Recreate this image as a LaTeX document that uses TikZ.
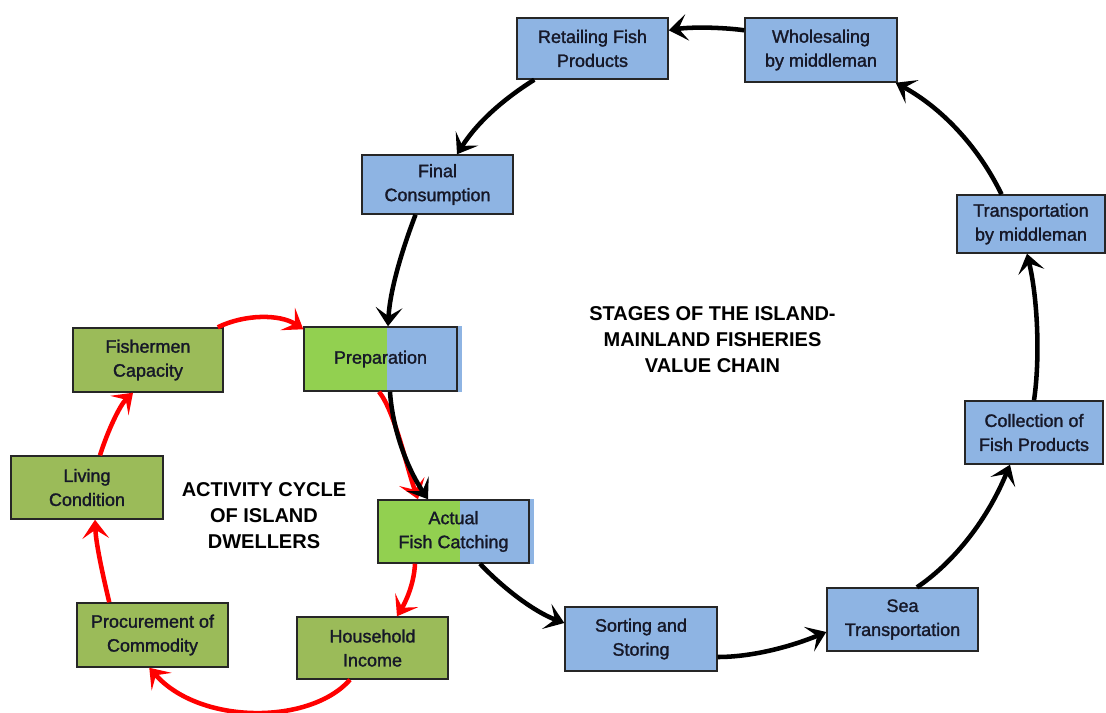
\documentclass[tikz,border=0pt]{standalone}
\usepackage{fontspec}
\setmainfont{Liberation Sans}
\newfontfamily\boxfont[FakeBold=1.5]{Liberation Sans}
\usetikzlibrary{arrows.meta,calc,backgrounds}
\definecolor{stageblue}{RGB}{142,180,227}
\definecolor{olive}{RGB}{155,187,89}
\definecolor{brightgreen}{RGB}{146,208,80}
\definecolor{edgegray}{RGB}{38,38,38}
\definecolor{inkblue}{RGB}{22,24,40}
\definecolor{cyclered}{RGB}{255,0,0}
\begin{document}
\begin{tikzpicture}[x=0.75pt,y=-0.75pt,
  sz/.style 2 args={minimum width=#1*0.75pt, minimum height=#2*0.75pt},
  box/.style={draw=edgegray, line width=1.1pt, align=center, text=inkblue,
    font=\boxfont\fontsize{13.5}{18}\selectfont, inner sep=0pt},
  stage/.style={box, fill=stageblue},
  life/.style={box, fill=olive},
  shared/.style={box, fill=stageblue,
    path picture={\fill[brightgreen] (path picture bounding box.north west) rectangle
      ($(path picture bounding box.south west)!#1!(path picture bounding box.south east)$);}},
  flow/.style={line width=3.4pt, -{Stealth[length=14pt,width=20pt,inset=6.5pt]}},
  chain/.style={flow, black},
  cycle/.style={flow, cyclered},
  heading/.style={font=\bfseries\fontsize{15}{19.5}\selectfont, align=center, text=black}
]
\useasboundingbox (0,0) rectangle (1106,713);

% value chain stages
\node[stage, sz={151}{61}] (ret) at (592.5,48.5) {Retailing Fish\\Products};
\node[stage, sz={152}{64}] (who) at (821,50) {Wholesaling\\by middleman};
\node[stage, sz={151}{59}] (fin) at (437.5,184.5) {Final\\Consumption};
\node[stage, sz={148}{58}] (tra) at (1031,224) {Transportation\\by middleman};
\node[stage, sz={138}{63}] (col) at (1034,432.5) {Collection of\\Fish Products};
\node[stage, sz={151}{63}] (sea) at (902.5,619.5) {Sea\\Transportation};
\node[stage, sz={152}{64}] (sor) at (641,639) {Sorting and\\Storing};

% stages shared by both cycles
\node[shared=0.54, sz={153}{64}] (pre) at (380.5,359) {Preparation};
\node[shared=0.54, sz={151}{63}] (act) at (453.5,531.5) {Actual\\Fish Catching};

% island dwellers' activities
\node[life, sz={150}{64}] (fis) at (148,360) {Fishermen\\Capacity};
\node[life, sz={152}{63}] (liv) at (87,487.5) {Living\\Condition};
\node[life, sz={151}{64}] (pro) at (152.5,635) {Procurement of\\Commodity};
\node[life, sz={151}{62}] (hou) at (372.5,648) {Household\\Income};

% thin blue edge behind the shared stages
\begin{scope}[on background layer]
  \fill[stageblue] (pre.north east) rectangle ($(pre.south east)+(4,0)$);
  \fill[stageblue] (act.north east) rectangle ($(act.south east)+(4,0)$);
\end{scope}

% headings
\node[heading] (vc) at (712.5,340) {STAGES OF THE ISLAND-\\MAINLAND FISHERIES\\VALUE CHAIN};
\node[heading] (ac) at (264,516) {ACTIVITY CYCLE\\OF ISLAND\\DWELLERS};

% activity cycle of island dwellers
\draw[cycle] ($(fis.north east)+(-6,0)$) .. controls (245,314) and (280,314) .. ($(pre.north west)+(0,3)$);
\draw[cycle] ($(pre.south)+(-1.5,0)$) .. controls (395,412) and (406,465) .. ($(act.north)+(-35.5,0)$);
\draw[cycle] ($(act.south)+(-38.5,0)$) .. controls (414,585) and (405,603) .. ($(hou.north)+(24.5,0)$);
\draw[cycle] ($(hou.south)+(-22.5,0)$) .. controls (310,725) and (200,725) .. ($(pro.south west)+(73,0)$);
\draw[cycle] ($(pro.north west)+(33,0)$) .. controls (104,580) and (96,545) .. ($(liv.south)+(8,0)$);
\draw[cycle] ($(liv.north)+(13,0)$) .. controls (108,430) and (120,405) .. ($(fis.south)+(-15,0)$);

% island-mainland value chain
\draw[chain] ($(who.north west)+(0,13)$) .. controls (720,27) and (690,27) .. ($(ret.north east)+(0,13)$);
\draw[chain] ($(ret.south west)+(18,0)$) .. controls (510,95) and (480,118) .. ($(fin.north)+(19.5,0)$);
\draw[chain] ($(fin.south)+(-22,0)$) .. controls (402,250) and (390,290) .. ($(pre.north)+(7.5,0)$);
\draw[chain] ($(pre.south)+(9.5,0)$) .. controls (392,425) and (405,465) .. ($(act.north)+(-25.5,0)$);
\draw[chain] ($(act.south)+(26.5,0)$) .. controls (505,590) and (535,612) .. ($(sor.west)+(0,-16)$);
\draw[chain] ($(sor.east)+(0,18)$) .. controls (755,657) and (795,645) .. ($(sea.west)+(0,12.5)$);
\draw[chain] ($(sea.north)+(14.5,0)$) .. controls (950,565) and (985,525) .. ($(col.south)+(-24,0)$);
\draw[chain] (col.north) .. controls (1040,360) and (1038,300) .. ($(tra.south)+(-4,0)$);
\draw[chain] ($(tra.north)+(-29.5,0)$) .. controls (980,150) and (945,110) .. ($(who.south east)+(-2,0)$);
\end{tikzpicture}
\end{document}
